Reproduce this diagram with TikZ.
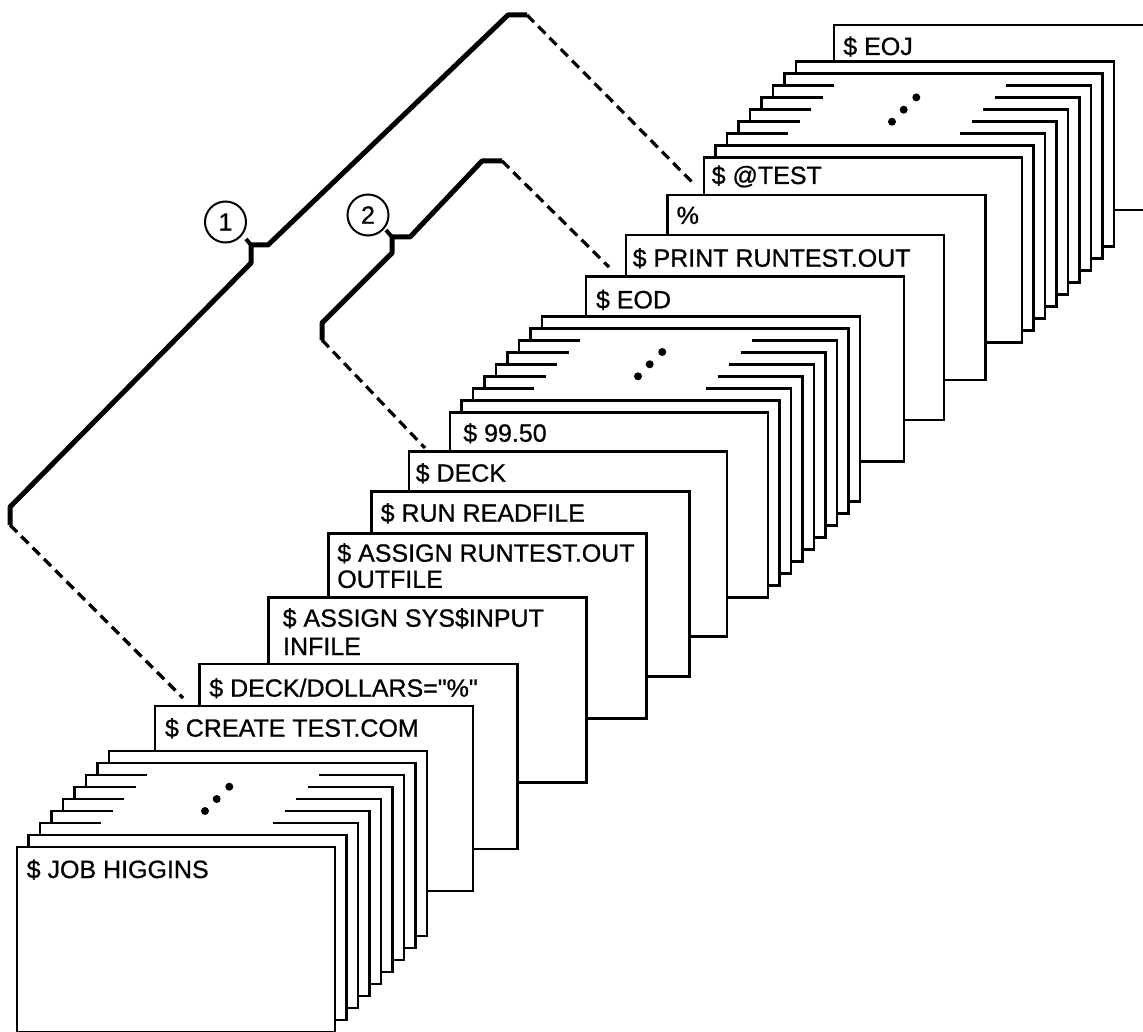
\documentclass[tikz,border=0pt]{standalone}
\usepackage{fontspec}
\setmainfont{Liberation Sans}
\newfontfamily\cardfont{Liberation Sans}[FakeBold=0.8]
\usetikzlibrary{calc}
\tikzset{
  card/.style={draw, line width=2.9pt, fill=white, minimum width=318pt, minimum height=185pt, anchor=north west, inner sep=0pt, outer sep=0pt},
  cardbg/.style={fill=white, minimum width=318pt, minimum height=185pt, anchor=north west, inner sep=0pt, outer sep=0pt},
  edgeline/.style={line width=2.9pt, line join=miter},
  lbl/.style={anchor=base west, inner sep=0pt, outer sep=0pt, font=\cardfont\fontsize{25}{29}\selectfont},
  brace/.style={line width=5pt, line join=round},
  tickline/.style={line width=4pt},
  dashline/.style={line width=3.2pt, dash pattern=on 10pt off 6pt},
  numcirc/.style={circle, draw, line width=2pt, minimum size=41pt, inner sep=0pt, font=\cardfont\fontsize{25}{29}\selectfont}
}
\newcommand{\mystack}[2]{%
  \foreach \i in {8,7,...,1}{%
    \node[cardbg] (#1\i) at ($(#2)+(11.5*\i,-12*\i)$) {};
    \ifnum\i>1 \ifnum\i<7 \gdef\mypart{1}\else\gdef\mypart{0}\fi \else\gdef\mypart{0}\fi
    \ifnum\mypart=1
      \draw[edgeline] ($(#1\i.north west)+(61,0)$) -- (#1\i.north west) -- (#1\i.south west) -- (#1\i.south east) -- (#1\i.north east) -- ($(#1\i.north east)+(-85,0)$);
    \else
      \draw[edgeline] (#1\i.north west) rectangle (#1\i.south east);
    \fi
  }%
  \fill ($(#2)+(188,-36)$) circle (4pt);
  \fill ($(#2)+(199.7,-48)$) circle (4pt);
  \fill ($(#2)+(212.3,-60.3)$) circle (4pt);
}
\begin{document}
\begin{tikzpicture}[x=1pt,y=-1pt]
\clip (0,0) rectangle (1143,1032);
\fill[white] (0,0) rectangle (1143,1032);
\coordinate (pJOB) at (17,847);
\coordinate (pN) at (450,412.3);
\coordinate (pT) at (704,157.7);

% back group
\node[card] (eoj) at (834,25) {};
\node[lbl] (teoj) at ($(eoj.north west)+(9.3,30)$) {\$ EOJ};
\mystack{sc}{pT}
\node[card] (test) at (pT) {};
\node[lbl] (ttest) at ($(test.north west)+(7.7,26.3)$) {\$ @TEST};
\node[card] (pct) at (667.3,195) {};
\node[lbl] (tpct) at ($(pct.north west)+(9.4,29)$) {\%};
\node[card] (print) at (626,235) {};
\node[lbl] (tprint) at ($(print.north west)+(6.7,31.7)$) {\$ PRINT RUNTEST.OUT};
\node[card] (eod) at (586,276.7) {};
\node[lbl] (teod) at ($(eod.north west)+(10,31.6)$) {\$ EOD};

% middle group
\mystack{sb}{pN}
\node[card] (n9950) at (pN) {};
\node[lbl] (tn9950) at ($(n9950.north west)+(13.3,29.4)$) {\$ 99.50};
\node[card] (deck) at (409,451.7) {};
\node[lbl] (tdeck) at ($(deck.north west)+(6.7,30)$) {\$ DECK};
\node[card] (run) at (371.7,491.7) {};
\node[lbl] (trun) at ($(run.north west)+(9,30)$) {\$ RUN READFILE};
\node[card] (outf) at (328.3,533.3) {};
\node[lbl] (toutfa) at ($(outf.north west)+(9,28.4)$) {\$ ASSIGN RUNTEST.OUT};
\node[lbl] (toutfb) at ($(outf.north west)+(9,54.5)$) {OUTFILE};
\node[card] (inf) at (268.3,597.3) {};
\node[lbl] (tinfa) at ($(inf.north west)+(14.4,29.4)$) {\$ ASSIGN SYS\$INPUT};
\node[lbl] (tinfb) at ($(inf.north west)+(14.8,57.7)$) {INFILE};
\node[card] (doll) at (199.3,664) {};
\node[lbl] (tdoll) at ($(doll.north west)+(10,32.7)$) {\$ DECK/DOLLARS="\%"};
\node[card] (create) at (155,706) {};
\node[lbl] (tcreate) at ($(create.north west)+(10,30.7)$) {\$ CREATE TEST.COM};

% front group
\mystack{sa}{pJOB}
\node[card] (job) at (pJOB) {};
\node[lbl] (tjob) at ($(job.north west)+(9.7,31)$) {\$ JOB HIGGINS};

% bracket 1
\node[numcirc] (c1) at (225.5,222) {1};
\coordinate (b1a) at (10,525);
\coordinate (b1b) at (10,507);
\coordinate (b1c) at (251,263);
\coordinate (b1m) at (251,245);
\coordinate (b1d) at (268,245);
\coordinate (b1e) at (508,15);
\coordinate (b1f) at (527,15);
\coordinate (b1t) at (246,239);
\coordinate (e1a) at (695,185);
\coordinate (e1b) at (183,698);
\draw[brace] (b1a) -- (b1b) -- (b1c) -- (b1m) -- (b1d) -- (b1e) -- (b1f);
\draw[tickline] (b1m) -- (b1t);
\draw[dashline] (b1f) -- (e1a);
\draw[dashline] (b1a) -- (e1b);

% bracket 2
\node[numcirc] (c2) at (368,215) {2};
\coordinate (b2a) at (322,340);
\coordinate (b2b) at (322,323);
\coordinate (b2c) at (392,253);
\coordinate (b2m) at (392,237);
\coordinate (b2d) at (410,237);
\coordinate (b2e) at (482,161);
\coordinate (b2f) at (502,161);
\coordinate (b2t) at (386,230);
\coordinate (e2a) at (609,267);
\coordinate (e2b) at (425,448);
\draw[brace] (b2a) -- (b2b) -- (b2c) -- (b2m) -- (b2d) -- (b2e) -- (b2f);
\draw[tickline] (b2m) -- (b2t);
\draw[dashline] (b2f) -- (e2a);
\draw[dashline] (b2a) -- (e2b);
\end{tikzpicture}
\end{document}
